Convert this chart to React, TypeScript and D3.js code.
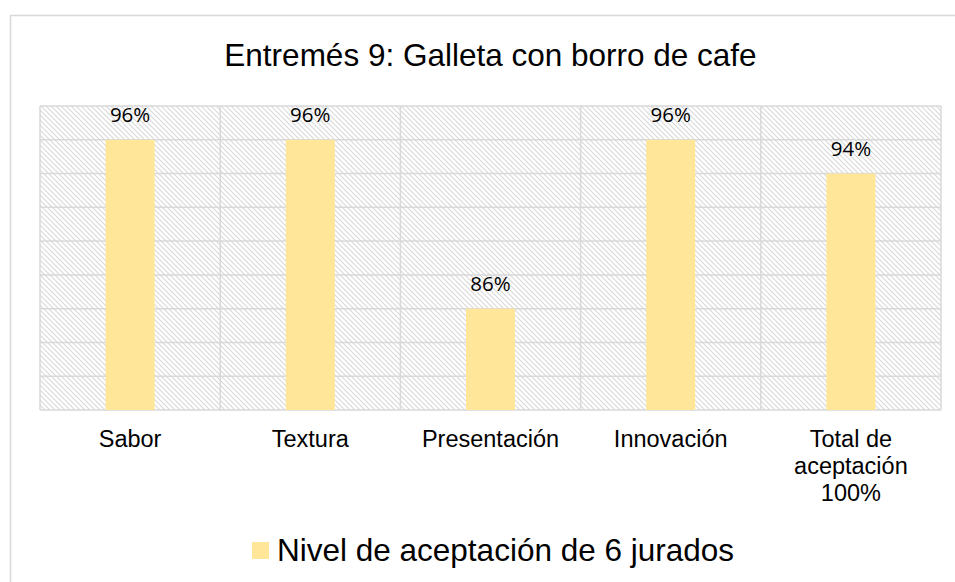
import React from "react";
import * as d3 from "d3";

const categories: string[][] = [
  ["Sabor"],
  ["Textura"],
  ["Presentación"],
  ["Innovación"],
  ["Total de", "aceptación", "100%"],
];
const values: number[] = [96, 96, 86, 96, 94];
const yTicks: number[] = [80, 82, 84, 86, 88, 90, 92, 94, 96, 98];
const title = "Entremés 9: Galleta con borro de cafe";
const seriesName = "Nivel de aceptación de 6 jurados";

const W = 955;
const H = 582;
const plot = { left: 40, right: 941, top: 106, bottom: 410 };
const grid = "#d9d9d9";
const barColor = "#ffe699";
const arial = "'Liberation Sans', Arial, sans-serif";
const labelFont = "'Open Sans', 'Noto Sans', sans-serif";

export default function App() {
  const x = d3
    .scaleBand<number>()
    .domain(d3.range(categories.length))
    .range([plot.left, plot.right])
    .paddingInner(0)
    .paddingOuter(0);
  const y = d3.scaleLinear().domain([80, 98]).range([plot.bottom, plot.top]);
  const bw = x.bandwidth() * 0.272;

  return (
    <svg
      width={W}
      height={H}
      style={{ position: "absolute", left: 0, top: 0, background: "#fff" }}
    >
      <defs>
        <pattern id="hatch" patternUnits="userSpaceOnUse" width={5} height={5}>
          <rect width={5} height={5} fill="#fff" />
          <path
            d="M-1,-1 L6,6 M-1,4 L1,6 M4,-1 L6,1"
            stroke="#dadada"
            strokeWidth={1.2}
          />
        </pattern>
      </defs>
      {/* chart area border */}
      <rect x={10.5} y={15.5} width={1000} height={700} fill="#fff" stroke={grid} strokeWidth={1.5} />

      {/* plot area */}
      <rect
        x={plot.left}
        y={plot.top}
        width={plot.right - plot.left}
        height={plot.bottom - plot.top}
        fill="url(#hatch)"
      />
      {yTicks.map((t) => (
        <line
          key={"h" + t}
          x1={plot.left}
          x2={plot.right}
          y1={y(t)}
          y2={y(t)}
          stroke={grid}
          strokeWidth={1.5}
        />
      ))}
      {d3.range(categories.length + 1).map((i) => {
        const xx = i < categories.length ? (x(i) as number) : plot.right;
        return (
          <line
            key={"v" + i}
            x1={xx}
            x2={xx}
            y1={plot.top}
            y2={plot.bottom}
            stroke={grid}
            strokeWidth={1.5}
          />
        );
      })}

      {/* bars */}
      {values.map((v, i) => {
        const cx = (x(i) as number) + x.bandwidth() / 2;
        return (
          <g key={"b" + i}>
            <rect
              x={cx - bw / 2}
              y={y(v)}
              width={bw}
              height={y(80) - y(v)}
              fill={barColor}
            />
            <text
              x={cx}
              y={y(v) - 18}
              textAnchor="middle"
              fontFamily={labelFont}
              fontSize={20.5}
              fill="#000"
            >
              {v + "%"}
            </text>
          </g>
        );
      })}

      {/* category labels */}
      {categories.map((lines, i) => {
        const cx = (x(i) as number) + x.bandwidth() / 2;
        return (
          <text
            key={"c" + i}
            x={cx}
            y={447}
            textAnchor="middle"
            fontFamily={arial}
            fontSize={23.5}
            fill="#000"
          >
            {lines.map((l, j) => (
              <tspan key={j} x={cx} dy={j === 0 ? 0 : 27}>
                {l}
              </tspan>
            ))}
          </text>
        );
      })}

      {/* title */}
      <text
        x={(plot.left + plot.right) / 2}
        y={66}
        textAnchor="middle"
        fontFamily={arial}
        fontSize={31.5}
        fill="#000"
      >
        {title}
      </text>

      {/* legend */}
      <rect x={252} y={542} width={17} height={17} fill={barColor} />
      <text x={277} y={561} fontFamily={arial} fontSize={31.5} fill="#000">
        {seriesName}
      </text>
    </svg>
  );
}
